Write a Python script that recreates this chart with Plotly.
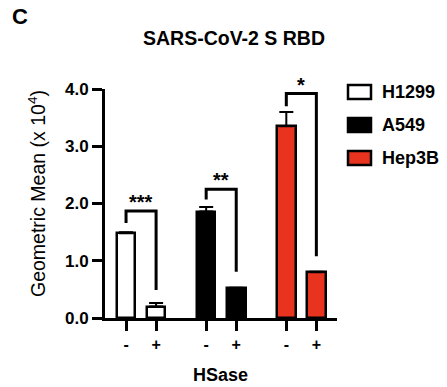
import plotly.graph_objects as go

# ---- data ----
cell_lines = ["H1299", "A549", "Hep3B"]
hsase_labels = ["-", "+"]
h1299_mean = [1.48, 0.20]
a549_mean = [1.86, 0.52]
hep3b_mean = [3.35, 0.80]
h1299_err = [0.02, 0.06]
a549_err = [0.08, 0.01]
hep3b_err = [0.25, 0.01]
bracket_left = [1.66, 2.07, 3.70]
bracket_top = [1.87, 2.25, 3.92]
bracket_right = [0.49, 0.81, 1.08]
stars = ["***", "**", "*"]
y_ticks = [0.0, 1.0, 2.0, 3.0, 4.0]

means = [h1299_mean, a549_mean, hep3b_mean]
errs = [h1299_err, a549_err, hep3b_err]
fills = ["#FFFFFF", "#000000", "#E8331F"]

FONT = "Liberation Sans, Arial, sans-serif"
W, H = 447, 387
ML, MR, MT, MB = 105, 110, 89, 69
PW, PH = W - ML - MR, H - MT - MB
GAP = 8 / 3  # spacing between cell-line groups in axis units


def xpos(g, i):
    return g * GAP + i


def px(x):
    return (x - ML) / PW


def py(y):
    return (H - MB - y) / PH


fig = go.Figure()
for g, name in enumerate(cell_lines):
    xs = [xpos(g, i) for i in range(len(hsase_labels))]
    fig.add_trace(go.Bar(
        x=xs, y=means[g], width=0.62, name=name, showlegend=False,
        marker=dict(color=fills[g], line=dict(color="black", width=2.5)),
        error_y=dict(type="data", symmetric=False, array=errs[g],
                     arrayminus=[0] * len(errs[g]), color="black",
                     thickness=2, width=7),
    ))
    # significance bracket
    x0, x1 = xs[0], xs[1]
    fig.add_trace(go.Scatter(
        x=[x0, x0, x1, x1],
        y=[bracket_left[g], bracket_top[g], bracket_top[g], bracket_right[g]],
        mode="lines", line=dict(color="black", width=3), showlegend=False,
        hoverinfo="skip",
    ))
    fig.add_annotation(x=(x0 + x1) / 2, y=bracket_top[g], text="<b>%s</b>" % stars[g],
                       showarrow=False, yanchor="bottom", yshift=-4,
                       font=dict(family=FONT, size=20, color="black"))

# manual legend
for g, name in enumerate(cell_lines):
    cy = 92 + g * 33
    fig.add_shape(type="rect", xref="paper", yref="paper",
                  x0=px(348), x1=px(371), y0=py(cy + 7), y1=py(cy - 7),
                  fillcolor=fills[g], line=dict(color="black", width=2.5))
    fig.add_annotation(xref="paper", yref="paper", x=px(380), y=py(cy),
                       text="<b>%s</b>" % name, showarrow=False,
                       xanchor="left", yanchor="middle",
                       font=dict(family=FONT, size=18, color="black"))

tickvals = [xpos(g, i) for g in range(len(cell_lines)) for i in range(len(hsase_labels))]
ticktext = [hsase_labels[i] for g in range(len(cell_lines)) for i in range(len(hsase_labels))]

fig.update_layout(
    width=W, height=H, margin=dict(l=ML, r=MR, t=MT, b=MB),
    plot_bgcolor="white", paper_bgcolor="white",
    font=dict(family=FONT, color="black"),
    bargap=0,
    xaxis=dict(range=[-0.7, 7.02], showgrid=False, zeroline=False,
               showline=True, linecolor="black", linewidth=3,
               ticks="outside", ticklen=10, tickwidth=3, tickcolor="black",
               tickvals=tickvals, ticktext=["<b>%s</b>" % t for t in ticktext],
               tickfont=dict(family=FONT, size=16, color="black")),
    yaxis=dict(range=[0, 4], showgrid=False, zeroline=False,
               showline=True, linecolor="black", linewidth=3,
               ticks="outside", ticklen=10, tickwidth=3, tickcolor="black",
               tickvals=y_ticks, ticktext=["<b>%.1f</b>" % v for v in y_ticks],
               tickfont=dict(family=FONT, size=17, color="black")),
)

# titles and labels
fig.add_annotation(xref="paper", yref="paper", x=px(10), y=py(17), text="<b>C</b>",
                   showarrow=False, xanchor="left", yanchor="middle",
                   font=dict(family=FONT, size=22, color="black"))
fig.add_annotation(xref="paper", yref="paper", x=px(234), y=py(38),
                   text="<b>SARS-CoV-2 S RBD</b>", showarrow=False,
                   xanchor="center", yanchor="middle",
                   font=dict(family=FONT, size=19.5, color="black"))
fig.add_annotation(xref="paper", yref="paper", x=px(220), y=py(375),
                   text="<b>HSase</b>", showarrow=False,
                   xanchor="center", yanchor="middle",
                   font=dict(family=FONT, size=18, color="black"))
fig.add_annotation(xref="paper", yref="paper", x=px(37), y=py(194),
                   text="Geometric Mean (x 10<sup>4</sup>)", showarrow=False,
                   textangle=-90, xanchor="center", yanchor="middle",
                   font=dict(family=FONT, size=19.5, color="black"))

fig.write_html("out.html", config={"displayModeBar": False},
               post_script="document.body.style.margin='0';document.body.style.overflow='hidden';")
